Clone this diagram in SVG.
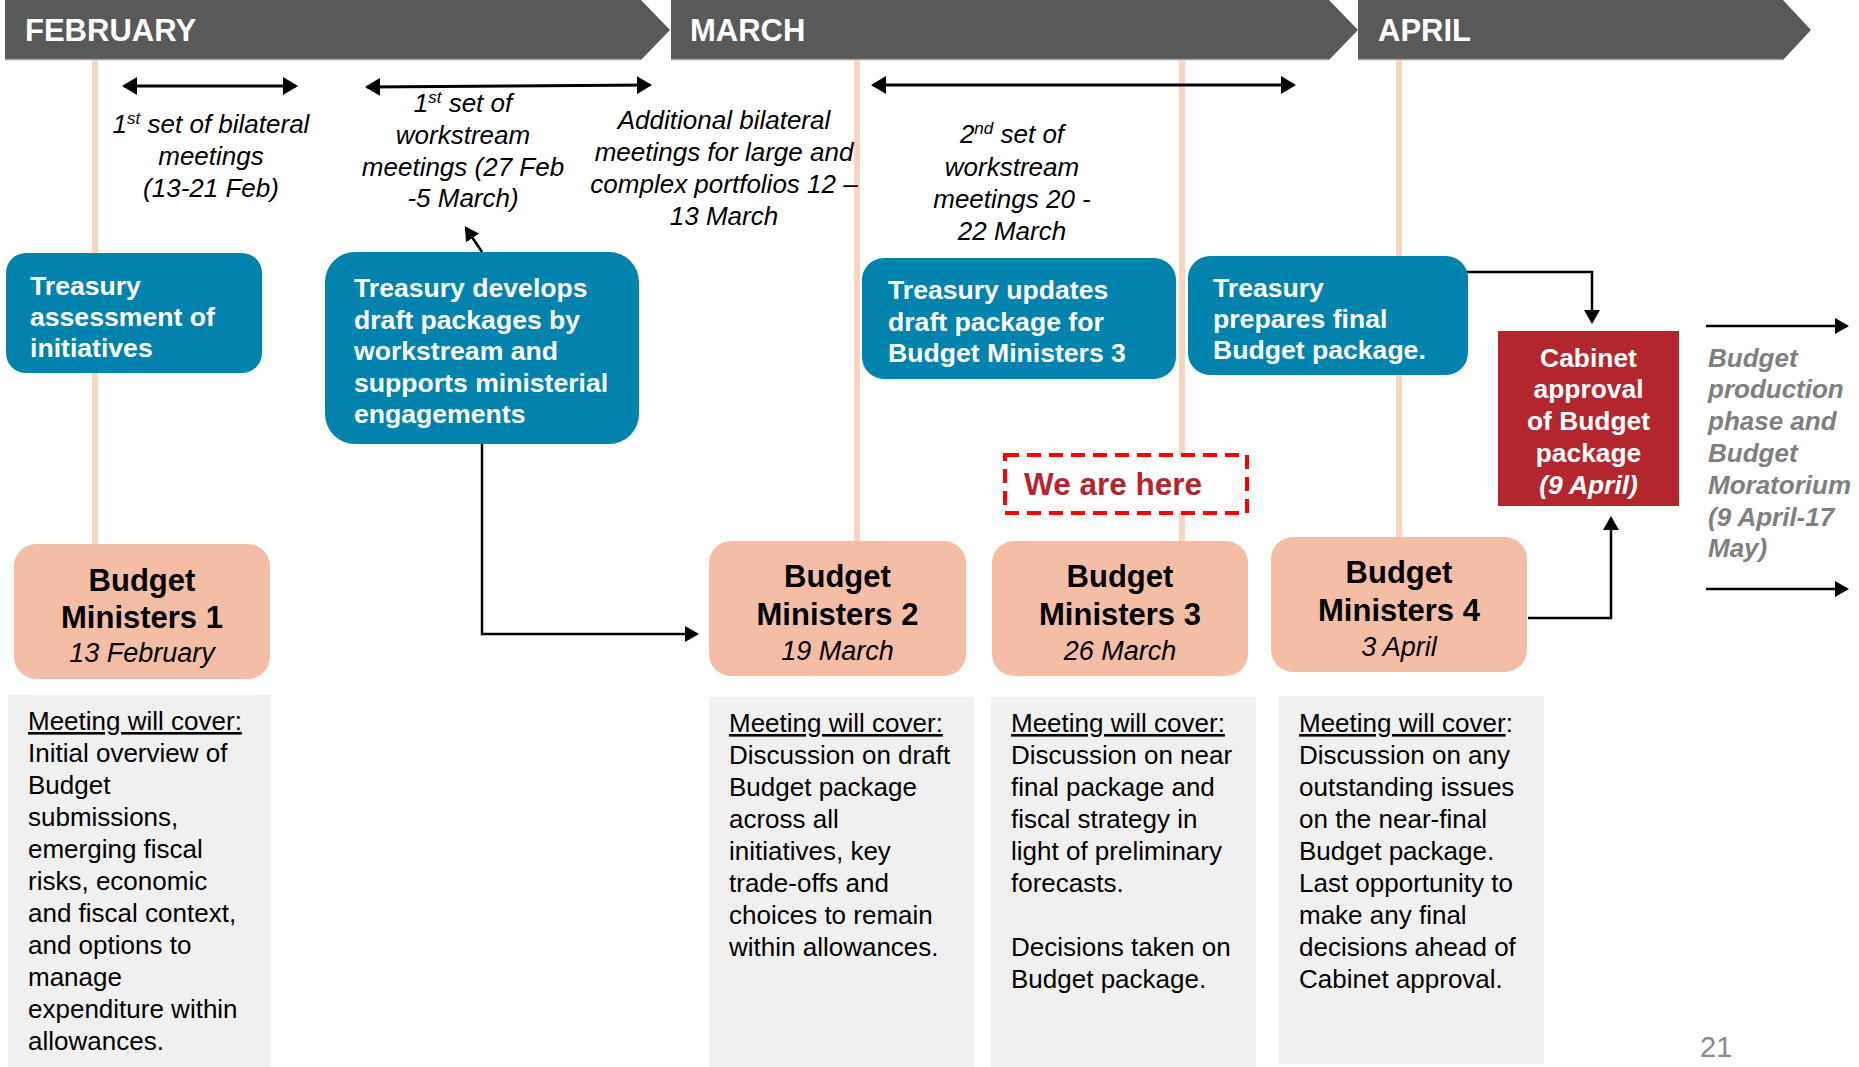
<svg xmlns="http://www.w3.org/2000/svg" width="1859" height="1067" viewBox="0 0 1859 1067">
<style>
text{font-family:"Liberation Sans",Arial,sans-serif}
.month{font-weight:bold;font-size:31px;fill:#ffffff}
.band{fill:#595959}
.edge{stroke:#a0a0a0;stroke-width:1.5}
.vline{stroke:#F9D4C3;stroke-width:6}
.blue{fill:#0283AD}
.bt{font-weight:bold;font-size:26.6px;fill:#ffffff}
.it{font-style:italic;font-size:26px;fill:#000000}
.sup{font-size:17px}
.bm{fill:#F4BEA6}
.bmt{font-weight:bold;font-size:31px;fill:#000000;text-anchor:middle}
.bmd{font-style:italic;font-size:27px;fill:#000000;text-anchor:middle}
.gray{fill:#F0F0F0}
.body{font-size:26px;fill:#000000}
.ul{text-decoration:underline}
.cab{fill:#B3262E}
.cabt{font-weight:bold;font-size:26.4px;fill:#ffffff;text-anchor:middle}
.side{font-weight:bold;font-style:italic;font-size:26px;fill:#7F7F7F}
.conn{stroke:#000000;stroke-width:2.5;fill:none}
.dbl{stroke:#000000;stroke-width:3;fill:none}
</style>
<defs>
<marker id="ah" markerUnits="userSpaceOnUse" markerWidth="16" markerHeight="18" refX="13" refY="9" orient="auto-start-reverse">
<path d="M0,0 L15,9 L0,18 Z" fill="#000000"/>
</marker>
<marker id="ah2" markerUnits="userSpaceOnUse" markerWidth="16" markerHeight="16" refX="12" refY="8" orient="auto-start-reverse">
<path d="M0,0 L14,8 L0,16 Z" fill="#000000"/>
</marker>
</defs>
<rect x="0" y="0" width="1859" height="1067" fill="#ffffff"/>

<g id="timeline">
<polygon class="band" points="5,0 641,0 670,30 641,60 5,60"/>
<polygon class="band" points="671,0 1329,0 1358,30 1329,60 671,60"/>
<polygon class="band" points="1358,0 1783,0 1811,30 1783,60 1358,60"/>
<line class="edge" x1="5" y1="59.5" x2="641" y2="59.5"/>
<line class="edge" x1="671" y1="59.5" x2="1329" y2="59.5"/>
<line class="edge" x1="1358" y1="59.5" x2="1783" y2="59.5"/>
<text class="month" x="25" y="41">FEBRUARY</text>
<text class="month" x="690" y="41">MARCH</text>
<text class="month" x="1378" y="41">APRIL</text>
</g>

<g id="milestone-lines">
<line class="vline" x1="95" y1="60" x2="95" y2="546"/>
<line class="vline" x1="857" y1="60" x2="857" y2="543"/>
<line class="vline" x1="1182" y1="60" x2="1182" y2="543"/>
<line class="vline" x1="1399" y1="60" x2="1399" y2="539"/>
</g>

<g id="connectors">
<line class="dbl" x1="124" y1="86" x2="296" y2="86" marker-start="url(#ah)" marker-end="url(#ah)"/>
<line class="dbl" x1="367" y1="87" x2="650" y2="85" marker-start="url(#ah)" marker-end="url(#ah)"/>
<line class="dbl" x1="873" y1="85" x2="1294" y2="85" marker-start="url(#ah)" marker-end="url(#ah)"/>
<path class="conn" d="M482,252 L466,228" marker-end="url(#ah2)"/>
<path class="conn" d="M482,444 V634 H697" marker-end="url(#ah2)"/>
<path class="conn" d="M1456,272 H1592 V322" marker-end="url(#ah2)"/>
<path class="conn" d="M1528,618 H1611 V518" marker-end="url(#ah2)"/>
<path class="conn" d="M1706,326 H1847" marker-end="url(#ah2)"/>
<path class="conn" d="M1706,589 H1847" marker-end="url(#ah2)"/>
</g>

<g id="label-bilateral-1">
<text class="it" text-anchor="middle"><tspan x="211" y="133">1<tspan class="sup" dy="-9">st</tspan><tspan dy="9"> set of bilateral</tspan></tspan><tspan x="211" y="165">meetings</tspan><tspan x="211" y="197">(13-21 Feb)</tspan></text>
</g>
<g id="label-workstream-1">
<text class="it" text-anchor="middle"><tspan x="463" y="112">1<tspan class="sup" dy="-9">st</tspan><tspan dy="9"> set of</tspan></tspan><tspan x="463" y="144">workstream</tspan><tspan x="463" y="176">meetings (27 Feb</tspan><tspan x="463" y="207">-5 March)</tspan></text>
</g>
<g id="label-bilateral-2">
<text class="it" text-anchor="middle"><tspan x="724" y="129">Additional bilateral</tspan><tspan x="724" y="161">meetings for large and</tspan><tspan x="724" y="193">complex portfolios 12 –</tspan><tspan x="724" y="225">13 March</tspan></text>
</g>
<g id="label-workstream-2">
<text class="it" text-anchor="middle"><tspan x="1012" y="143">2<tspan class="sup" dy="-9">nd</tspan><tspan dy="9"> set of</tspan></tspan><tspan x="1012" y="176">workstream</tspan><tspan x="1012" y="208">meetings 20 -</tspan><tspan x="1012" y="240">22 March</tspan></text>
</g>

<g id="treasury-assessment">
<rect class="blue" x="6" y="253" width="256" height="120" rx="20"/>
<text class="bt"><tspan x="30" y="295">Treasury</tspan><tspan x="30" y="326">assessment of</tspan><tspan x="30" y="357">initiatives</tspan></text>
</g>
<g id="treasury-develops">
<rect class="blue" x="325" y="252" width="314" height="192" rx="30"/>
<text class="bt"><tspan x="354" y="297">Treasury develops</tspan><tspan x="354" y="329">draft packages by</tspan><tspan x="354" y="360">workstream and</tspan><tspan x="354" y="392">supports ministerial</tspan><tspan x="354" y="423">engagements</tspan></text>
</g>
<g id="treasury-updates">
<rect class="blue" x="862" y="258" width="314" height="121" rx="22"/>
<text class="bt"><tspan x="888" y="299">Treasury updates</tspan><tspan x="888" y="331">draft package for</tspan><tspan x="888" y="362">Budget Ministers 3</tspan></text>
</g>
<g id="treasury-final">
<rect class="blue" x="1188" y="256" width="280" height="119" rx="22"/>
<text class="bt"><tspan x="1213" y="297">Treasury</tspan><tspan x="1213" y="328">prepares final</tspan><tspan x="1213" y="359">Budget package.</tspan></text>
</g>
<g id="cabinet-approval">
<rect class="cab" x="1498" y="331" width="181" height="175"/>
<text class="cabt"><tspan x="1588.5" y="367">Cabinet</tspan><tspan x="1588.5" y="398">approval</tspan><tspan x="1588.5" y="430">of Budget</tspan><tspan x="1588.5" y="462">package</tspan><tspan x="1588.5" y="494" font-style="italic">(9 April)</tspan></text>
</g>
<g id="budget-production">
<text class="side"><tspan x="1708" y="367">Budget</tspan><tspan x="1708" y="398">production</tspan><tspan x="1708" y="430">phase and</tspan><tspan x="1708" y="462">Budget</tspan><tspan x="1708" y="494">Moratorium</tspan><tspan x="1708" y="526">(9 April-17</tspan><tspan x="1708" y="557">May)</tspan></text>
</g>
<g id="we-are-here">
<rect x="1005" y="455" width="242" height="58" fill="#ffffff" stroke="#FF0000" stroke-width="4" stroke-dasharray="14 8"/>
<text x="1024" y="495" font-weight="bold" font-size="31.5" fill="#B3262E">We are here</text>
</g>

<g id="budget-ministers-1">
<rect class="bm" x="14" y="544" width="256" height="135" rx="22"/>
<text class="bmt" x="142" y="591">Budget</text>
<text class="bmt" x="142" y="628">Ministers 1</text>
<text class="bmd" x="142" y="662">13 February</text>
</g>
<g id="budget-ministers-2">
<rect class="bm" x="709" y="541" width="257" height="135" rx="22"/>
<text class="bmt" x="837.5" y="587">Budget</text>
<text class="bmt" x="837.5" y="625">Ministers 2</text>
<text class="bmd" x="837.5" y="660">19 March</text>
</g>
<g id="budget-ministers-3">
<rect class="bm" x="992" y="541" width="256" height="135" rx="22"/>
<text class="bmt" x="1120" y="587">Budget</text>
<text class="bmt" x="1120" y="625">Ministers 3</text>
<text class="bmd" x="1120" y="660">26 March</text>
</g>
<g id="budget-ministers-4">
<rect class="bm" x="1271" y="537" width="256" height="135" rx="22"/>
<text class="bmt" x="1399" y="583">Budget</text>
<text class="bmt" x="1399" y="621">Ministers 4</text>
<text class="bmd" x="1399" y="656">3 April</text>
</g>

<g id="cover-1">
<rect class="gray" x="8" y="695" width="263" height="372"/>
<text class="body"><tspan x="28" y="730" class="ul">Meeting will cover:</tspan><tspan x="28" y="762">Initial overview of</tspan><tspan x="28" y="794">Budget</tspan><tspan x="28" y="826">submissions,</tspan><tspan x="28" y="858">emerging fiscal</tspan><tspan x="28" y="890">risks, economic</tspan><tspan x="28" y="922">and fiscal context,</tspan><tspan x="28" y="954">and options to</tspan><tspan x="28" y="986">manage</tspan><tspan x="28" y="1018">expenditure within</tspan><tspan x="28" y="1050">allowances.</tspan></text>
</g>
<g id="cover-2">
<rect class="gray" x="709" y="697" width="265" height="370"/>
<text class="body"><tspan x="729" y="732" class="ul">Meeting will cover:</tspan><tspan x="729" y="764">Discussion on draft</tspan><tspan x="729" y="796">Budget package</tspan><tspan x="729" y="828">across all</tspan><tspan x="729" y="860">initiatives, key</tspan><tspan x="729" y="892">trade-offs and</tspan><tspan x="729" y="924">choices to remain</tspan><tspan x="729" y="956">within allowances.</tspan></text>
</g>
<g id="cover-3">
<rect class="gray" x="991" y="697" width="265" height="370"/>
<text class="body"><tspan x="1011" y="732" class="ul">Meeting will cover:</tspan><tspan x="1011" y="764">Discussion on near</tspan><tspan x="1011" y="796">final package and</tspan><tspan x="1011" y="828">fiscal strategy in</tspan><tspan x="1011" y="860">light of preliminary</tspan><tspan x="1011" y="892">forecasts.</tspan><tspan x="1011" y="956">Decisions taken on</tspan><tspan x="1011" y="988">Budget package.</tspan></text>
</g>
<g id="cover-4">
<rect class="gray" x="1279" y="696" width="265" height="368"/>
<text class="body"><tspan x="1299" y="732"><tspan class="ul">Meeting will cover</tspan>:</tspan><tspan x="1299" y="764">Discussion on any</tspan><tspan x="1299" y="796">outstanding issues</tspan><tspan x="1299" y="828">on the near-final</tspan><tspan x="1299" y="860">Budget package.</tspan><tspan x="1299" y="892">Last opportunity to</tspan><tspan x="1299" y="924">make any final</tspan><tspan x="1299" y="956">decisions ahead of</tspan><tspan x="1299" y="988">Cabinet approval.</tspan></text>
</g>

<g id="page-number">
<text x="1700" y="1057" font-size="29" fill="#8C8C8C">21</text>
</g>
</svg>
